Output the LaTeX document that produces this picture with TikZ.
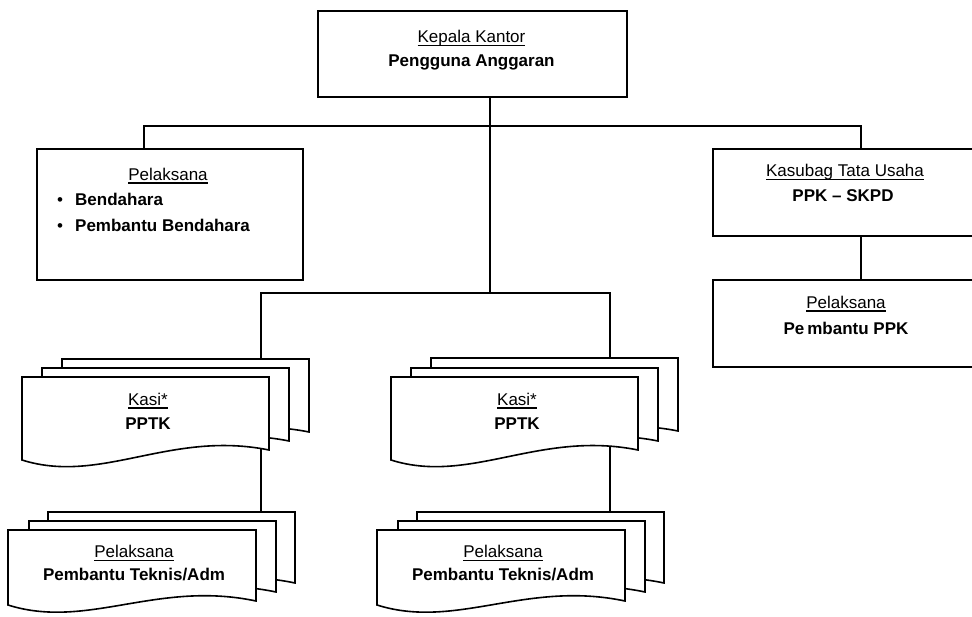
\documentclass[tikz,border=0pt]{standalone}
\usepackage{fontspec}
\setmainfont{Liberation Sans}
\newcommand{\myul}[1]{\setbox0\hbox{#1}\leavevmode\rlap{\rule[-3.6pt]{\wd0}{1.4pt}}\box0}
\newcommand{\mydoc}[7]{%
  \draw[ln, fill=white] (#1,#2) -- ({#1+#3},#2) -- ({#1+#3},{#2+#7})
    .. controls ({#1+0.6*#3},{#2+#6}) and ({#1+0.32*#3},{#2+#5}) .. (#1,{#2+#4}) -- cycle;}
\tikzset{
  ln/.style={line width=1.6pt, line join=miter},
  box/.style={draw, ln, fill=white, rectangle, inner sep=0pt, anchor=north west},
  lbl/.style={anchor=base, inner sep=0pt, font=\fontsize{17pt}{24pt}\selectfont},
  lblw/.style={lbl, anchor=base west}
}
\begin{document}
\begin{tikzpicture}[x=1pt, y=-1pt]
\clip (0,0) rectangle (972,616);
\fill[white] (0,0) rectangle (972,616);

% coordinates for connectors
\coordinate (busL) at (144,126);
\coordinate (busK) at (490,126);
\coordinate (busR) at (861,126);
\coordinate (bus2L) at (261,293);
\coordinate (bus2M) at (490,293);
\coordinate (bus2R) at (610,293);
\coordinate (kAtop) at (261,359);
\coordinate (kBtop) at (610,358);
\coordinate (kAbot) at (261,440);
\coordinate (kBbot) at (610,440);
\coordinate (pAtop) at (261,512);
\coordinate (pBtop) at (610,512);

% boxes (rectangles)
\node[box, minimum width=309pt, minimum height=86pt] (kepala) at (317,10) {};
\node[box, minimum width=266pt, minimum height=131pt] (pelL) at (36,148) {};
\node[box, minimum width=266pt, minimum height=87pt] (kasub) at (712,148) {};
\node[box, minimum width=266pt, minimum height=87pt] (pelR) at (712,279) {};

% connectors
\draw[ln] (kepala.south -| busK) -- (bus2M);
\draw[ln] (pelL.north -| busL) -- (busL) -- (busR) -- (kasub.north -| busR);
\draw[ln] (kAtop) -- (bus2L) -- (bus2R) -- (kBtop);
\draw[ln] (kasub.south -| busR) -- (pelR.north -| busR);
\draw[ln] (kAbot) -- (pAtop);
\draw[ln] (kBbot) -- (pBtop);

% Kasi stacks
\mydoc{62}{359}{247}{83}{108}{53}{73}
\mydoc{42}{368}{247}{83}{108}{53}{73}
\mydoc{22}{377}{247}{83}{108}{53}{73}
\mydoc{431}{358}{247}{83}{108}{53}{73}
\mydoc{411}{368}{247}{83}{108}{53}{73}
\mydoc{391}{377}{247}{83}{108}{53}{73}

% Pelaksana stacks
\mydoc{48}{512}{247}{75}{100}{50}{71}
\mydoc{29}{521}{247}{75}{100}{50}{71}
\mydoc{8}{530}{248}{75}{100}{50}{71}
\mydoc{417}{512}{247}{75}{100}{50}{71}
\mydoc{398}{521}{247}{75}{100}{50}{71}
\mydoc{377}{530}{248}{75}{100}{50}{71}

% texts
\node[lbl] (t1a) at (471.5,42.7) {\myul{Kepala Kantor}};
\node[lbl] (t1b) at (471.5,66.7) {\bfseries Pengguna Anggaran};

\node[lbl] (t2a) at (168,180) {\myul{Pelaksana}};
\node[lbl] (b1) at (60,205.5) {•};
\node[lblw] (t2b) at (75,205.5) {\bfseries Bendahara};
\node[lbl] (b2) at (60,231) {•};
\node[lblw] (t2c) at (75,231) {\bfseries Pembantu Bendahara};

\node[lbl] (t3a) at (845,176.7) {\myul{Kasubag Tata Usaha}};
\node[lbl] (t3b) at (843,201.7) {\bfseries PPK – SKPD};

\node[lbl] (t4a) at (846,308) {\myul{Pelaksana}};
\node[lbl] (t4b) at (846,334) {\bfseries Pe\hspace{3pt}mbantu PPK};

\node[lbl] (t5a) at (148,405) {\myul{Kasi*}};
\node[lbl] (t5b) at (148,429.3) {\bfseries PPTK};
\node[lbl] (t6a) at (517,405) {\myul{Kasi*}};
\node[lbl] (t6b) at (517,429.3) {\bfseries PPTK};

\node[lbl] (t7a) at (134,557.7) {\myul{Pelaksana}};
\node[lbl] (t7b) at (134,580.7) {\bfseries Pembantu Teknis/Adm};
\node[lbl] (t8a) at (503,557.7) {\myul{Pelaksana}};
\node[lbl] (t8b) at (503,580.7) {\bfseries Pembantu Teknis/Adm};
\end{tikzpicture}
\end{document}
